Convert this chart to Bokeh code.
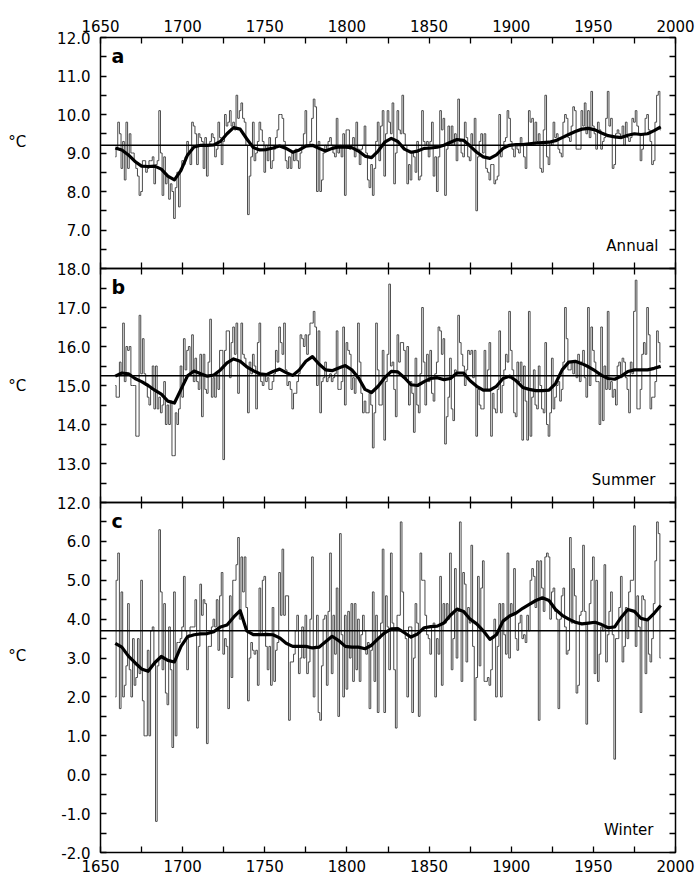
from bokeh.plotting import figure
from bokeh.models import Range1d, LinearAxis, FixedTicker, NumeralTickFormatter, Span, Label
from bokeh.layouts import column
from bokeh.embed import file_html
from bokeh.resources import INLINE

FIRST_YEAR = 1659
SMOOTH_STEP = 4
YEAR_TICKS = [1650, 1700, 1750, 1800, 1850, 1900, 1950, 2000]
YEAR_MINOR = [1675, 1725, 1775, 1825, 1875, 1925, 1975]

# ---- Annual (panel a) ----
annual = [
    8.9, 9.1, 9.8, 9.5, 8.6, 9.3, 8.3, 9.8, 8.6, 9.5,
    9.0, 9.0, 8.8, 8.6, 8.4, 7.9, 8.0, 8.8, 8.8, 8.5,
    8.6, 8.8, 8.8, 8.9, 8.2, 8.7, 8.8, 10.1, 9.0, 7.9,
    8.9, 8.2, 8.4, 7.8, 8.2, 8.0, 7.3, 8.1, 8.5, 7.6,
    8.6, 8.8, 8.7, 8.9, 9.3, 9.0, 8.7, 9.8, 9.7, 9.5,
    8.7, 9.5, 9.4, 9.3, 8.6, 9.4, 8.4, 9.2, 9.3, 9.5,
    9.4, 8.9, 9.1, 9.8, 9.4, 8.7, 9.3, 10.0, 9.7, 9.8,
    10.1, 9.7, 9.8, 9.6, 10.5, 9.9, 10.1, 10.3, 9.9, 9.8,
    9.2, 7.4, 8.4, 8.9, 9.8, 8.8, 9.0, 9.3, 9.8, 9.6,
    9.3, 8.5, 9.2, 8.8, 9.4, 8.6, 8.8, 9.1, 9.4, 9.6,
    10.0, 10.0, 9.9, 9.3, 8.8, 8.6, 8.9, 8.6, 9.0, 8.8,
    9.1, 8.8, 8.6, 9.0, 9.2, 9.5, 10.1, 9.2, 9.2, 9.3,
    9.9, 10.4, 10.2, 8.0, 9.3, 8.0, 8.3, 9.0, 9.2, 9.1,
    9.3, 9.4, 9.2, 9.0, 8.9, 9.9, 9.0, 9.2, 8.9, 9.5,
    7.9, 9.6, 9.6, 9.1, 9.2, 9.4, 8.9, 9.8, 9.1, 8.7,
    9.1, 9.2, 9.7, 9.0, 8.3, 8.1, 8.7, 7.9, 8.6, 9.3,
    9.8, 8.8, 9.7, 10.1, 8.4, 9.5, 10.1, 9.8, 9.5, 10.3,
    8.2, 9.0, 10.1, 9.6, 9.5, 10.5, 9.5, 9.2, 8.2, 8.7,
    8.3, 9.0, 8.9, 8.5, 9.3, 8.3, 8.4, 10.1, 9.3, 9.2,
    9.3, 8.9, 9.3, 9.8, 8.4, 8.9, 8.0, 8.9, 10.1, 9.6,
    9.9, 7.9, 9.1, 9.7, 9.2, 9.7, 9.2, 9.5, 8.8, 10.4,
    9.3, 9.0, 8.9, 9.8, 9.4, 8.9, 8.8, 9.5, 9.2, 9.9,
    7.5, 8.9, 9.3, 9.5, 9.0, 9.5, 8.6, 8.5, 8.3, 8.7,
    8.7, 8.2, 8.3, 8.4, 10.0, 8.9, 9.1, 9.3, 9.4, 10.1,
    9.9, 9.3, 9.1, 8.9, 9.2, 9.1, 9.0, 9.4, 9.2, 8.9,
    8.6, 9.2, 10.1, 9.8, 9.9, 9.2, 9.8, 9.3, 9.5, 8.6,
    8.5, 9.6, 10.5, 8.9, 8.7, 9.3, 9.2, 9.8, 9.4, 9.5,
    9.1, 9.0, 8.9, 9.8, 10.0, 9.9, 9.4, 9.3, 9.7, 10.2,
    10.1, 9.1, 9.1, 9.1, 10.1, 9.7, 10.3, 9.5, 10.1, 9.4,
    10.6, 9.7, 9.5, 9.1, 9.8, 9.6, 9.1, 9.3, 9.4, 9.9,
    10.6, 9.7, 9.9, 8.6, 8.7, 9.5, 9.6, 9.5, 9.4, 9.7,
    9.2, 9.8, 9.4, 9.3, 9.4, 9.9, 9.8, 10.1, 9.7, 9.5,
    8.8, 9.1, 9.5, 9.9, 10.0, 9.6, 9.3, 8.7, 8.8, 9.8,
    10.5, 10.6, 9.6,
]
annual_smooth = [
    9.13, 9.08, 8.95, 8.78, 8.66, 8.65, 8.66, 8.58, 8.40, 8.30,
    8.55, 8.95, 9.16, 9.20, 9.20, 9.21, 9.30, 9.50, 9.66, 9.62,
    9.37, 9.14, 9.08, 9.09, 9.13, 9.18, 9.12, 9.02, 9.08, 9.18,
    9.20, 9.12, 9.05, 9.12, 9.16, 9.15, 9.14, 9.05, 8.92, 8.88,
    9.05, 9.28, 9.38, 9.30, 9.10, 9.02, 9.05, 9.12, 9.13, 9.15,
    9.20, 9.28, 9.35, 9.33, 9.18, 9.02, 8.90, 8.86, 8.95, 9.12,
    9.20, 9.22, 9.22, 9.24, 9.26, 9.27, 9.28, 9.32, 9.40, 9.48,
    9.56, 9.62, 9.64, 9.60, 9.52, 9.45, 9.42, 9.40, 9.46, 9.50,
    9.48, 9.50, 9.58, 9.68,
]
annual_mean = 9.2

# ---- Summer (panel b) ----
summer = [
    15.0, 14.7, 14.7, 15.6, 15.3, 16.6, 15.1, 16.0, 15.9, 16.0,
    15.0, 15.0, 15.0, 13.7, 13.7, 16.8, 15.3, 16.2, 15.3, 15.0,
    14.7, 14.5, 14.9, 15.5, 14.4, 15.5, 14.4, 14.7, 14.3, 14.5,
    15.1, 14.0, 14.5, 14.0, 14.6, 13.2, 13.2, 14.3, 14.0, 14.4,
    15.5, 14.7, 16.2, 15.4, 15.9, 16.0, 15.3, 16.3, 15.1, 15.7,
    15.1, 14.9, 15.8, 14.2, 15.8, 14.9, 14.8, 15.6, 16.7, 14.7,
    15.2, 14.7, 15.3, 14.9, 15.9, 15.9, 13.1, 15.9, 16.4, 16.4,
    15.2, 16.1, 16.5, 15.8, 16.6, 14.8, 15.6, 16.6, 15.8, 15.7,
    15.5, 14.3, 15.6, 15.3, 15.8, 15.5, 14.4, 16.1, 16.6, 15.1,
    15.0, 15.3, 15.1, 15.2, 14.9, 14.9, 15.1, 15.3, 15.9, 15.6,
    16.5, 16.1, 15.8, 16.6, 15.4, 15.0, 15.1, 14.9, 14.4, 14.8,
    14.8, 15.1, 15.3, 16.3, 16.2, 16.0, 16.3, 15.8, 16.3, 16.6,
    16.6, 16.9, 16.5, 15.0, 16.4, 14.3, 15.1, 15.2, 15.6, 15.1,
    15.2, 15.3, 15.1, 15.2, 15.3, 16.4, 14.9, 14.9, 15.1, 16.5,
    14.5, 16.1, 15.9, 15.8, 14.9, 15.2, 14.8, 15.2, 16.6, 15.6,
    14.8, 14.3, 14.6, 14.3, 14.3, 14.8, 14.5, 13.4, 14.3, 16.6,
    15.4, 14.5, 14.5, 15.9, 13.6, 15.1, 15.8, 17.6, 15.5, 15.6,
    14.9, 14.2, 16.3, 15.6, 16.1, 16.1, 15.9, 15.2, 16.0, 14.5,
    15.1, 14.8, 13.8, 15.7, 14.5, 14.3, 15.3, 17.0, 15.6, 14.5,
    15.8, 15.1, 15.9, 14.8, 14.6, 15.3, 15.6, 16.5, 16.4, 15.8,
    16.2, 13.5, 14.2, 14.7, 15.7, 14.4, 14.1, 15.4, 15.3, 16.8,
    16.1, 15.8, 15.5, 15.0, 15.4, 15.9, 15.8, 15.9, 15.2, 15.9,
    13.7, 14.9, 14.5, 14.4, 14.4, 15.9, 14.9, 15.4, 16.1, 13.7,
    14.8, 14.4, 14.3, 14.9, 16.4, 14.3, 15.0, 15.4, 15.8, 15.6,
    16.9, 15.9, 15.4, 14.3, 14.2, 15.6, 15.1, 15.6, 13.6, 15.5,
    14.6, 13.6, 16.9, 13.7, 14.7, 15.4, 14.5, 14.4, 15.5, 15.0,
    14.4, 14.3, 16.1, 14.0, 13.7, 14.3, 15.7, 14.4, 14.7, 15.0,
    15.1, 14.6, 14.9, 15.6, 17.0, 16.2, 15.4, 15.4, 15.6, 15.3,
    15.6, 15.2, 15.8, 15.1, 15.6, 15.9, 15.2, 14.7, 17.0, 15.0,
    16.5, 15.9, 15.6, 15.1, 15.1, 14.0, 16.5, 14.1, 15.5, 14.9,
    16.9, 14.9, 15.1, 14.7, 14.9, 14.5, 15.5, 15.6, 15.2, 15.7,
    15.6, 15.2, 14.9, 14.3, 15.6, 15.3, 16.9, 17.7, 14.4, 14.4,
    14.9, 15.8, 16.1, 15.8, 17.0, 16.3, 14.4, 14.7, 14.7, 15.1,
    16.4, 16.1, 15.6,
]
summer_smooth = [
    15.24, 15.32, 15.30, 15.18, 15.10, 15.00, 14.88, 14.78, 14.60, 14.55,
    14.90, 15.25, 15.37, 15.30, 15.24, 15.27, 15.40, 15.58, 15.68, 15.62,
    15.48, 15.38, 15.30, 15.28, 15.36, 15.42, 15.33, 15.26, 15.40, 15.62,
    15.74, 15.55, 15.40, 15.38, 15.45, 15.51, 15.40, 15.20, 14.90, 14.82,
    14.98, 15.20, 15.36, 15.35, 15.20, 15.02, 15.00, 15.10, 15.18, 15.20,
    15.15, 15.18, 15.32, 15.32, 15.12, 14.98, 14.88, 14.88, 14.98, 15.18,
    15.24, 15.12, 14.95, 14.90, 14.87, 14.87, 14.88, 15.05, 15.40, 15.60,
    15.62, 15.56, 15.48, 15.38, 15.26, 15.18, 15.16, 15.24, 15.36, 15.40,
    15.40, 15.40, 15.44, 15.49,
]
summer_mean = 15.25

# ---- Winter (panel c) ----
winter = [
    2.0, 5.0, 5.7, 1.7, 4.7, 2.0, 2.3, 2.8, 4.4, 2.7,
    2.0, 3.5, 2.3, 2.5, 3.5, 2.6, 5.0, 1.9, 1.0, 1.0,
    3.2, 1.0, 3.7, 3.8, 2.9, -1.2, 2.8, 6.3, 4.7, 2.7,
    4.4, 2.1, 1.8, 3.8, 2.7, 0.7, 4.7, 1.0, 3.4, 3.4,
    3.5, 3.8, 5.1, 3.7, 2.7, 3.6, 3.8, 3.8, 3.8, 4.5,
    1.2, 3.3, 4.9, 4.1, 4.5, 4.4, 0.8, 3.3, 3.3, 3.8,
    4.0, 3.8, 4.5, 3.2, 4.6, 5.2, 3.1, 3.5, 3.3, 1.7,
    4.6, 2.5, 5.0, 5.0, 5.4, 6.1, 4.0, 5.6, 4.7, 5.6,
    4.3, 1.9, 3.0, 3.4, 3.2, 3.1, 3.2, 2.3, 4.8, 3.6,
    5.0, 5.1, 3.3, 2.7, 3.3, 2.3, 4.3, 2.4, 3.2, 3.4,
    5.2, 4.1, 5.8, 4.1, 4.6, 4.6, 1.4, 2.9, 2.9, 3.1,
    3.7, 4.1, 2.6, 3.0, 3.8, 3.0, 4.1, 2.6, 2.9, 4.0,
    5.6, 2.0, 3.3, 4.1, 1.6, 1.4, 2.8, 4.0, 4.1, 2.3,
    4.2, 5.7, 2.6, 4.1, 3.1, 4.8, 1.5, 6.2, 3.6, 2.0,
    4.1, 2.2, 4.2, 3.0, 4.4, 2.4, 4.4, 2.7, 4.0, 2.4,
    3.6, 4.1, 3.7, 3.1, 3.4, 1.7, 3.2, 4.7, 2.4, 4.1,
    1.6, 3.5, 3.9, 5.8, 1.6, 4.6, 3.8, 2.7, 5.7, 3.9,
    2.7, 1.2, 4.1, 4.1, 6.5, 4.7, 3.7, 3.5, 2.0, 3.8,
    3.8, 1.6, 3.0, 4.4, 3.9, 1.5, 5.7, 5.0, 5.0, 4.1,
    3.6, 3.5, 3.1, 3.8, 3.9, 2.0, 3.5, 3.1, 5.1, 2.3,
    4.4, 3.9, 4.4, 4.0, 5.7, 2.7, 3.5, 5.3, 3.0, 4.2,
    6.5, 2.4, 5.2, 4.9, 2.9, 4.3, 3.9, 5.9, 3.3, 1.4,
    2.5, 5.1, 2.8, 4.8, 5.5, 2.4, 2.4, 2.5, 2.3, 2.7,
    3.5, 4.0, 2.0, 3.3, 4.4, 2.0, 4.4, 3.6, 3.1, 5.7,
    3.0, 4.4, 4.1, 5.3, 3.5, 3.2, 3.9, 4.1, 3.5, 3.6,
    3.4, 4.1, 3.7, 5.0, 5.3, 5.1, 4.3, 5.5, 1.4, 5.5,
    4.8, 4.2, 5.6, 5.7, 5.6, 4.0, 4.7, 4.8, 4.2, 4.0,
    1.7, 4.0, 4.6, 4.8, 3.8, 3.1, 3.2, 6.1, 3.9, 5.3,
    4.6, 2.1, 2.3, 4.1, 4.2, 5.9, 4.2, 1.3, 3.9, 4.4,
    5.0, 5.6, 2.6, 5.0, 2.4, 3.1, 3.8, 3.7, 5.4, 2.9,
    3.6, 4.2, 4.7, 3.6, 0.4, 3.5, 3.5, 4.3, 5.1, 2.9,
    3.3, 4.3, 3.5, 4.7, 5.0, 5.0, 6.4, 3.3, 4.6, 3.8,
    1.6, 4.6, 4.5, 2.6, 4.0, 3.1, 2.9, 3.5, 4.4, 5.5,
    6.5, 6.2, 3.0,
]
winter_smooth = [
    3.38, 3.28, 3.05, 2.88, 2.72, 2.66, 2.88, 3.04, 2.94, 2.90,
    3.30, 3.55, 3.60, 3.62, 3.63, 3.68, 3.80, 3.85, 4.05, 4.22,
    3.70, 3.60, 3.60, 3.61, 3.60, 3.52, 3.38, 3.30, 3.30, 3.30,
    3.26, 3.28, 3.42, 3.56, 3.45, 3.30, 3.28, 3.28, 3.24, 3.33,
    3.50, 3.65, 3.75, 3.76, 3.65, 3.54, 3.62, 3.78, 3.81, 3.82,
    3.90, 4.10, 4.26, 4.20, 4.00, 3.88, 3.70, 3.48, 3.60, 3.95,
    4.08, 4.16, 4.28, 4.38, 4.48, 4.55, 4.48, 4.25, 4.10, 4.00,
    3.92, 3.88, 3.90, 3.92, 3.86, 3.78, 3.80, 4.05, 4.25, 4.20,
    4.02, 3.98, 4.15, 4.35,
]
winter_mean = 3.7

FONT = "DejaVu Sans"


def make_panel(vals, smooth, mean, y0, y1, yticks, yminor, letter, season,
               frame_h, top, bottom, overlap, top_labels, bottom_labels,
               season_dx, unit_text, unit_baseline, unit_standoff):
    years = list(range(FIRST_YEAR, FIRST_YEAR + len(vals)))
    syears = list(range(FIRST_YEAR, FIRST_YEAR + SMOOTH_STEP * len(smooth), SMOOTH_STEP))
    p = figure(width=700, height=top + frame_h + bottom,
               x_range=Range1d(1650, 2000), y_range=Range1d(y0, y1),
               output_backend="svg", toolbar_location=None,
               x_axis_location=None, y_axis_location=None,
               min_border_left=100, min_border_right=25,
               min_border_top=top, min_border_bottom=bottom,
               margin=(-overlap, 0, 0, 0),
               background_fill_color=None, border_fill_color=None,
               outline_line_color="black", outline_line_width=1.5)
    p.grid.visible = False

    def style(ax, labels):
        ax.major_tick_in = 6
        ax.major_tick_out = 0
        ax.minor_tick_in = 6
        ax.minor_tick_out = 0
        ax.axis_line_color = None
        ax.major_tick_line_color = "black"
        ax.minor_tick_line_color = "black"
        ax.major_tick_line_width = 1.3
        ax.minor_tick_line_width = 1.3
        if labels:
            ax.major_label_text_font = FONT
            ax.major_label_text_font_size = "15px"
            ax.major_label_text_color = "black"
        else:
            ax.major_label_text_font_size = "0px"
            ax.major_label_text_color = None
            ax.major_label_standoff = 0

    xt = FixedTicker(ticks=YEAR_TICKS, minor_ticks=YEAR_MINOR)
    yt = FixedTicker(ticks=yticks, minor_ticks=yminor)

    ax_top = LinearAxis(ticker=xt)
    style(ax_top, top_labels)
    if top_labels:
        ax_top.major_label_standoff = 6
    p.add_layout(ax_top, "above")

    ax_bot = LinearAxis(ticker=xt)
    style(ax_bot, bottom_labels)
    if bottom_labels:
        ax_bot.major_label_standoff = 7
    p.add_layout(ax_bot, "below")

    ax_left = LinearAxis(ticker=yt, formatter=NumeralTickFormatter(format="0.0"),
                         axis_label=unit_text)
    style(ax_left, True)
    ax_left.major_label_standoff = 10
    ax_left.axis_label_orientation = "horizontal"
    ax_left.axis_label_text_font = FONT
    ax_left.axis_label_text_font_size = "15px"
    ax_left.axis_label_text_font_style = "normal"
    ax_left.axis_label_text_color = "black"
    ax_left.axis_label_text_baseline = unit_baseline
    ax_left.axis_label_standoff = unit_standoff
    p.add_layout(ax_left, "left")

    ax_right = LinearAxis(ticker=yt)
    style(ax_right, False)
    p.add_layout(ax_right, "right")

    p.step(x=years, y=vals, mode="center", line_color="#4a4a4a", line_width=1)
    p.add_layout(Span(location=mean, dimension="width", line_color="black", line_width=1.5))
    p.line(x=syears, y=smooth, line_color="black", line_width=3.2, line_join="round")

    p.add_layout(Label(x=1650, y=y1, x_offset=11, y_offset=-7, text=letter, text_font=FONT,
                       text_font_size="19px", text_font_style="bold",
                       text_baseline="top", text_color="black"))
    p.add_layout(Label(x=2000, y=y0, x_offset=-season_dx, y_offset=14, text=season,
                       text_font=FONT, text_font_size="15px", text_align="right",
                       text_baseline="bottom", text_color="black"))
    return p


pa = make_panel(annual, annual_smooth, annual_mean, 6.0, 12.0,
                [7, 8, 9, 10, 11, 12], [6.5, 7.5, 8.5, 9.5, 10.5, 11.5],
                "a", "Annual", 231, 37, 12, 0, True, False, 17,
                "°C\n", "middle", 28)
pb = make_panel(summer, summer_smooth, summer_mean, 12.0, 18.0,
                [12, 13, 14, 15, 16, 17, 18], [12.5, 13.5, 14.5, 15.5, 16.5, 17.5],
                "b", "Summer", 234, 12, 12, 24, False, False, 20,
                "°C", "middle", 28)
pc = make_panel(winter, winter_smooth, winter_mean, -2.0, 7.0,
                [-2, -1, 0, 1, 2, 3, 4, 5, 6], [-1.5, -0.5, 0.5, 1.5, 2.5, 3.5, 4.5, 5.5, 6.5],
                "c", "Winter", 350, 12, 27, 24, False, True, 22,
                "°C\n\n", "middle", 32)

layout = column(pa, pb, pc, spacing=0)
open("out.html", "w").write(file_html(layout, INLINE))
